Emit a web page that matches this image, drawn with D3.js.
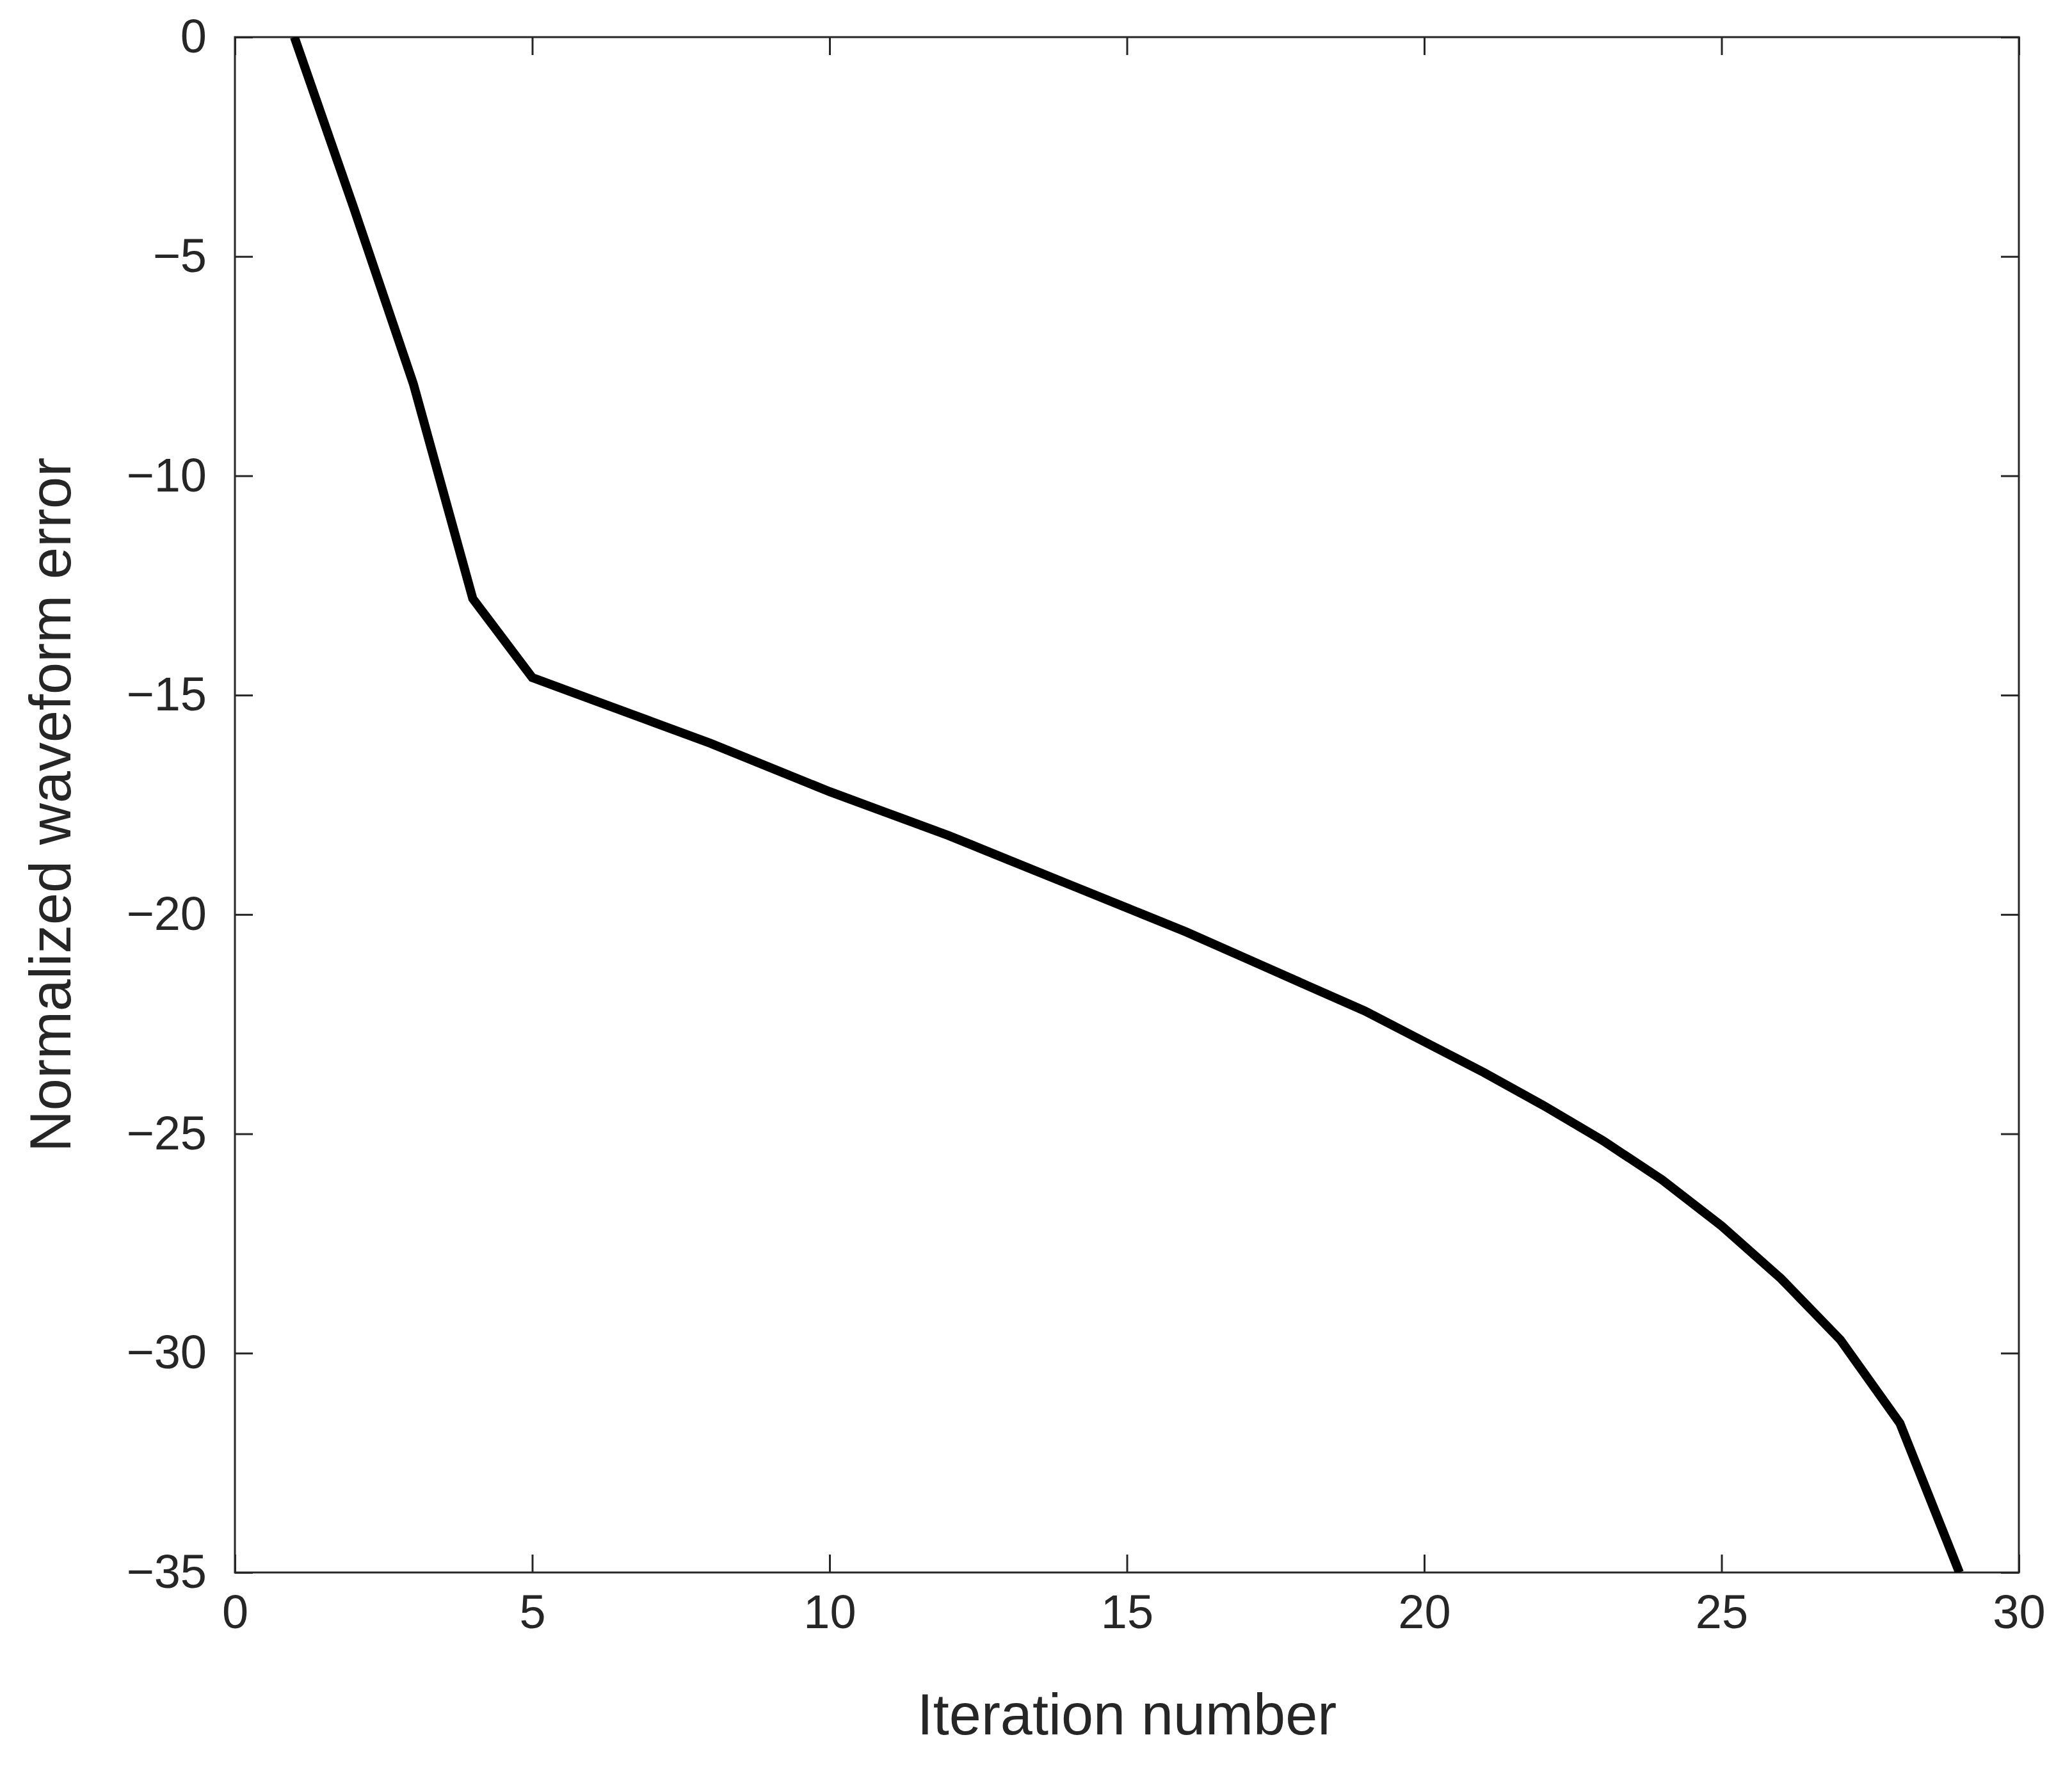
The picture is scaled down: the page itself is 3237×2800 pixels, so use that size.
<!DOCTYPE html>
<html><head><meta charset="utf-8">
<script src="https://cdn.jsdelivr.net/npm/d3@7"></script>
<style>body{margin:0;background:#fff}</style>
</head><body>
<script>
// values
const iterations = [1,2,3,4,5,6,7,8,9,10,11,12,13,14,15,16,17,18,19,20,21,22,23,24,25,26,27,28,29]
const errors = [0,-3.9,-7.9,-12.8,-14.6,-15.1,-15.6,-16.1,-16.65,-17.2,-17.7,-18.2,-18.75,-19.3,-19.85,-20.4,-21.0,-21.6,-22.2,-22.9,-23.6,-24.35,-25.15,-26.05,-27.1,-28.3,-29.7,-31.6,-35]
const xTicks = [0,5,10,15,20,25,30]
const yTicks = [0,-5,-10,-15,-20,-25,-30,-35]

const W = 3237, H = 2800
const m = {left: 367, right: W - 3154, top: 58, bottom: H - 2457}
const svg = d3.select('body').append('svg').attr('width', W).attr('height', H)
  .style('font-family', '"Liberation Sans", Arial, sans-serif')

const x = d3.scaleLinear().domain([0, 30]).range([m.left, W - m.right])
const y = d3.scaleLinear().domain([-35, 0]).range([H - m.bottom, m.top])

const tickLen = 28
const styleAxis = g => {
  g.select('.domain').remove()
  g.selectAll('.tick line').attr('stroke', '#262626').attr('stroke-width', 3)
  g.selectAll('.tick text').attr('fill', '#262626').attr('font-size', 74)
}
svg.append('g').attr('transform', `translate(0,${H - m.bottom})`)
  .call(d3.axisBottom(x).tickValues(xTicks).tickSize(-tickLen).tickPadding(34)).call(styleAxis)
svg.append('g').attr('transform', `translate(0,${m.top})`)
  .call(d3.axisTop(x).tickValues(xTicks).tickSize(-tickLen).tickFormat('')).call(styleAxis)
svg.append('g').attr('transform', `translate(${m.left},0)`)
  .call(d3.axisLeft(y).tickValues(yTicks).tickSize(-tickLen).tickPadding(44)
    .tickFormat(d => d < 0 ? '\u2212' + (-d) : d)).call(styleAxis)
svg.append('g').attr('transform', `translate(${W - m.right},0)`)
  .call(d3.axisRight(y).tickValues(yTicks).tickSize(-tickLen).tickFormat('')).call(styleAxis)

svg.append('rect').attr('x', m.left).attr('y', m.top)
  .attr('width', W - m.left - m.right).attr('height', H - m.top - m.bottom)
  .attr('fill', 'none').attr('stroke', '#262626').attr('stroke-width', 3)

svg.append('defs').append('clipPath').attr('id', 'clip').append('rect')
  .attr('x', m.left).attr('y', m.top)
  .attr('width', W - m.left - m.right).attr('height', H - m.top - m.bottom)

svg.append('path').datum(iterations.map((d, i) => [d, errors[i]]))
  .attr('clip-path', 'url(#clip)')
  .attr('fill', 'none').attr('stroke', '#000').attr('stroke-width', 14)
  .attr('d', d3.line().x(d => x(d[0])).y(d => y(d[1])))

svg.append('text').attr('x', (m.left + W - m.right) / 2).attr('y', 2710)
  .attr('text-anchor', 'middle').attr('font-size', 90).attr('fill', '#262626')
  .text('Iteration number')
svg.append('text').attr('transform', `translate(110,${(m.top + H - m.bottom) / 2}) rotate(-90)`)
  .attr('text-anchor', 'middle').attr('font-size', 90).attr('fill', '#262626')
  .text('Normalized waveform error')
</script>
</body></html>
